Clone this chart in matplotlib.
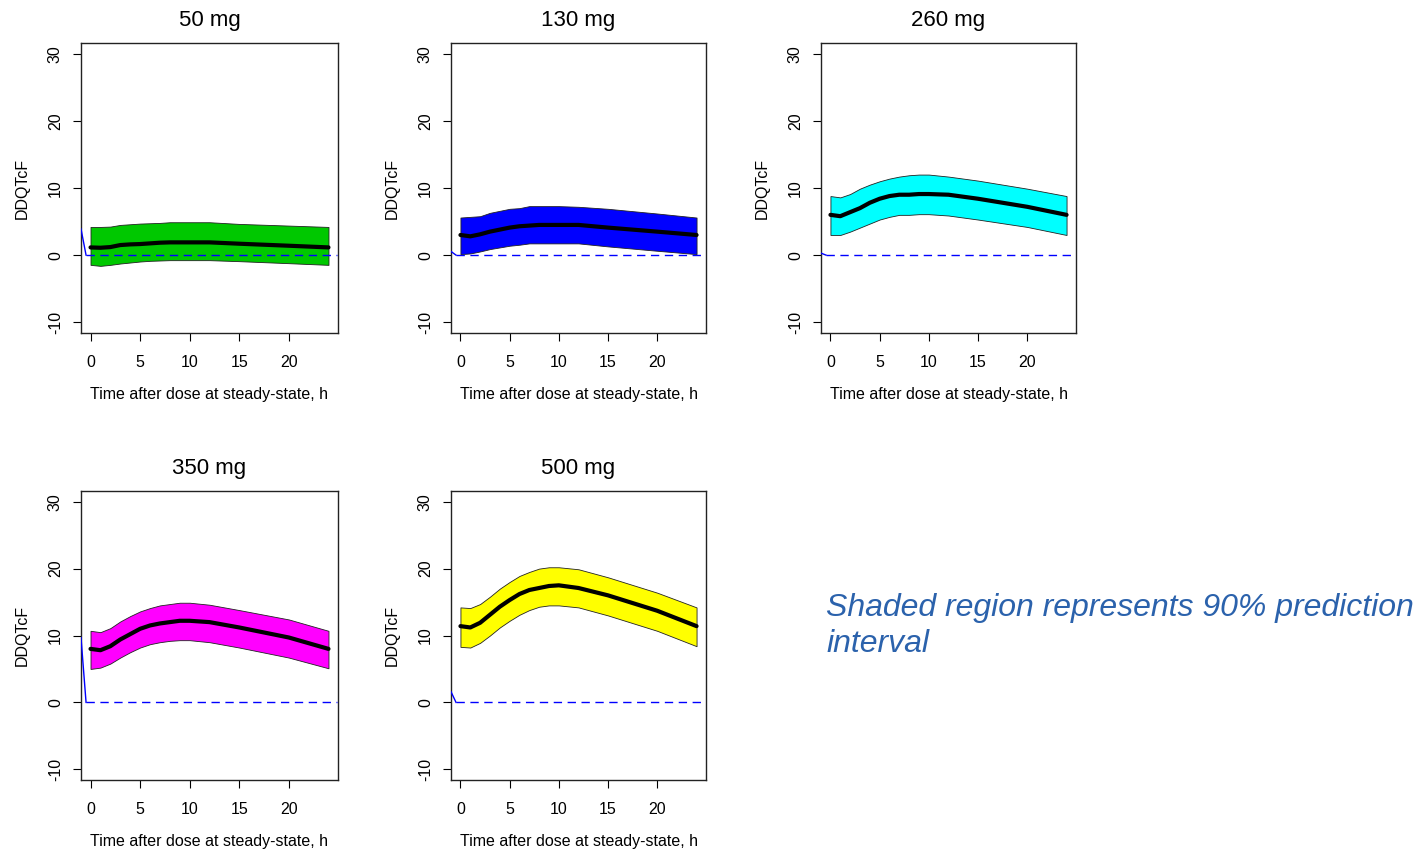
import matplotlib
matplotlib.use('Agg')
from matplotlib import pyplot as plt

plt.rcParams['font.family'] = ['Liberation Sans', 'DejaVu Sans']

# time after dose (h), shared by all panels
hours = [0, 1, 2, 3, 4, 5, 6, 7, 8, 9, 10, 12, 15, 20, 24]

doses = ['50 mg', '130 mg', '260 mg', '350 mg', '500 mg']
fill_colors = ['#00C800', '#0000FF', '#00FFFF', '#FF00FF', '#FFFF00']

median_50 = [1.15, 1.1, 1.2, 1.5, 1.6, 1.65, 1.75, 1.85, 1.9, 1.9, 1.9, 1.9, 1.7, 1.4, 1.15]
upper_50 = [4.2, 4.2, 4.25, 4.5, 4.6, 4.7, 4.75, 4.8, 4.9, 4.9, 4.9, 4.9, 4.65, 4.4, 4.2]
lower_50 = [-1.45, -1.6, -1.45, -1.25, -1.1, -0.95, -0.85, -0.8, -0.75, -0.75, -0.75, -0.75, -0.9, -1.2, -1.45]

median_130 = [3.0, 2.8, 3.1, 3.5, 3.8, 4.1, 4.3, 4.4, 4.5, 4.5, 4.5, 4.5, 4.1, 3.5, 3.0]
upper_130 = [5.6, 5.7, 5.8, 6.3, 6.6, 6.9, 7.0, 7.3, 7.3, 7.3, 7.3, 7.2, 6.9, 6.2, 5.6]
lower_130 = [0.15, 0.25, 0.55, 0.9, 1.15, 1.4, 1.55, 1.75, 1.75, 1.75, 1.75, 1.75, 1.3, 0.65, 0.15]

median_260 = [6.0, 5.8, 6.4, 7.0, 7.8, 8.4, 8.8, 9.0, 9.0, 9.1, 9.1, 9.0, 8.4, 7.2, 6.0]
upper_260 = [8.8, 8.6, 9.1, 9.9, 10.5, 11.0, 11.4, 11.7, 11.9, 12.0, 12.0, 11.7, 11.1, 9.9, 8.8]
lower_260 = [3.0, 3.0, 3.5, 4.1, 4.7, 5.3, 5.7, 6.0, 6.0, 6.1, 6.1, 5.9, 5.3, 4.2, 3.0]

median_350 = [8.0, 7.8, 8.4, 9.4, 10.2, 11.0, 11.5, 11.8, 12.0, 12.2, 12.2, 12.0, 11.2, 9.7, 8.0]
upper_350 = [10.7, 10.5, 11.1, 12.1, 12.9, 13.6, 14.1, 14.5, 14.7, 14.9, 14.9, 14.6, 13.8, 12.4, 10.7]
lower_350 = [5.0, 5.2, 5.8, 6.7, 7.5, 8.2, 8.7, 9.0, 9.2, 9.3, 9.3, 9.0, 8.2, 6.7, 5.1]

median_500 = [11.4, 11.2, 11.9, 13.1, 14.3, 15.3, 16.2, 16.8, 17.1, 17.4, 17.5, 17.1, 16.0, 13.7, 11.4]
upper_500 = [14.2, 14.1, 14.7, 15.8, 17.0, 18.0, 18.9, 19.5, 20.0, 20.2, 20.2, 19.9, 18.7, 16.4, 14.2]
lower_500 = [8.3, 8.2, 8.9, 10.0, 11.2, 12.2, 13.1, 13.8, 14.3, 14.5, 14.5, 14.2, 13.0, 10.7, 8.4]

medians = [median_50, median_130, median_260, median_350, median_500]
uppers = [upper_50, upper_130, upper_260, upper_350, upper_500]
lowers = [lower_50, lower_130, lower_260, lower_350, lower_500]

# stray blue reference segment at the left edge of each panel (y at left edge)
ref_start = [3.9, 0.55, 0.3, 9.7, 1.6]

x_ticks = [0, 5, 10, 15, 20]
y_ticks = [-10, 0, 10, 20, 30]

fig = plt.figure(figsize=(14.19, 8.5), dpi=100)
W, H = 1419, 850

# panel boxes in pixels: left, top, right, bottom
boxes = [(81, 43, 338, 333), (451, 43, 706, 333), (821, 43, 1076, 333),
         (81, 491, 338, 780), (451, 491, 706, 780)]

xlo, xhi = -0.96, 24.96
for i in range(5):
    l, t, r, b = boxes[i]
    ax = fig.add_axes([l / W, (H - b) / H, (r - l) / W, (b - t) / H])
    ax.fill_between(hours, lowers[i], uppers[i], facecolor=fill_colors[i],
                    edgecolor='#222222', linewidth=0.6, zorder=2)
    ax.plot(hours, medians[i], color='black', linewidth=3, solid_capstyle='round', zorder=3)
    # zero reference line
    ax.plot([xlo, -0.45], [ref_start[i], 0], color='blue', linewidth=1, zorder=4)
    ax.plot([-0.45, 24.9], [0, 0], color='blue', linewidth=1, dashes=(6, 4), zorder=4)

    ax.set_xlim(xlo, xhi)
    ax.set_ylim(-11.6, 31.6)
    ax.set_xticks(x_ticks)
    ax.set_yticks(y_ticks)
    ax.set_yticklabels([str(v) for v in y_ticks], rotation=90, va='center')
    ax.tick_params(axis='both', direction='out', length=6, width=0.8, labelsize=11.5)
    ax.tick_params(axis='x', pad=10)
    ax.tick_params(axis='y', pad=7)
    for sp in ax.spines.values():
        sp.set_linewidth(1.0)
        sp.set_color('#222222')
    ax.set_title(doses[i], fontsize=16, pad=12)
    ax.set_xlabel('Time after dose at steady-state, h', fontsize=11.5, labelpad=12)
    ax.set_ylabel('DDQTcF', fontsize=11.5, labelpad=13)

fig.text(826 / W, 1 - 626 / H, 'Shaded region represents 90% prediction\ninterval',
         fontsize=23, style='italic', color='#2B62AC', va='center', ha='left',
         linespacing=1.3)

fig.savefig('out.png', dpi=100)
